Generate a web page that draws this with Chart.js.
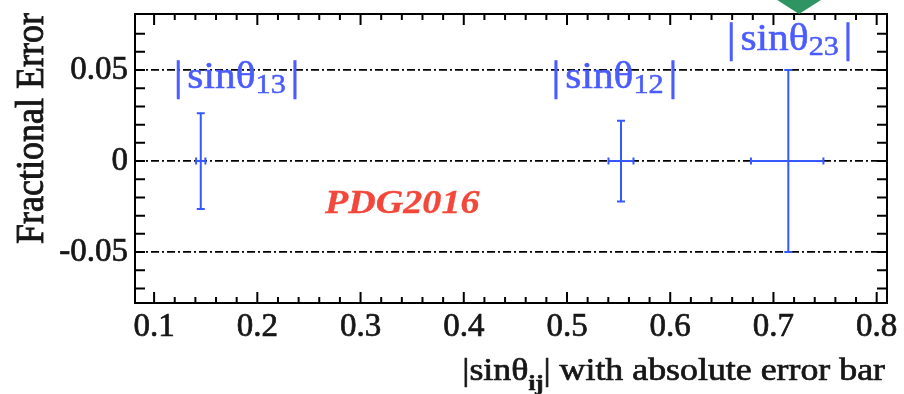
<!DOCTYPE html>
<html>
<head>
<meta charset="utf-8">
<title>Fractional Error</title>
<script src="https://cdn.jsdelivr.net/npm/chart.js@4.4.1/dist/chart.umd.min.js"></script>
<style>
  html, body { margin: 0; padding: 0; background: #fff; }
  canvas { display: block; }
</style>
</head>
<body>
<canvas id="error-chart" width="904" height="394"></canvas>
<script>
// mixing angles: |sin theta_ij| and their fractional errors
const angleNames = ["13", "12", "23"];
const sinValues = [0.1452, 0.5523, 0.7144];
const fracValues = [0, 0, 0];
const fracErrors = [0.0263, 0.0222, 0.0500];
const sinErrLow = [0.0045, 0.0121, 0.0362];
const sinErrHigh = [0.0045, 0.0121, 0.0340];

const xTickValues = [0.1, 0.2, 0.3, 0.4, 0.5, 0.6, 0.7, 0.8];
const xTickLabels = ["0.1", "0.2", "0.3", "0.4", "0.5", "0.6", "0.7", "0.8"];
const yTickValues = [-0.05, 0, 0.05];
const yTickLabels = ["-0.05", "0", "0.05"];

// where the text sits, in axis units
const labelSpots = [
  { x: 0.1799, y: 0.0402 },
  { x: 0.5460, y: 0.0402 },
  { x: 0.7157, y: 0.0611 }
];
const notePos = { x: 0.2656, y: -0.0286 };
const pinX = 0.7248;

const SERIF = "'Liberation Serif', 'Times New Roman', serif";
const stretch = 1.12;
const blueText = "#4a5cff";
const blueLine = "#3558ff";
const ink = "#161616";

Chart.defaults.font.family = SERIF;
Chart.defaults.color = ink;

function drawRuns(ctx, runs, x, y, align, color, weight) {
  let total = 0;
  runs.forEach((r) => {
    ctx.font = r.font;
    r.w = ctx.measureText(r.text).width + (r.pre || 0) + (r.post || 0);
    total += r.w;
  });
  let start = x;
  if (align === "right") start = x - total * stretch;
  if (align === "center") start = x - (total * stretch) / 2;
  ctx.save();
  ctx.translate(start, y);
  ctx.scale(stretch, 1);
  ctx.fillStyle = color;
  ctx.strokeStyle = color;
  ctx.lineWidth = weight || 0.6;
  ctx.textAlign = "left";
  ctx.textBaseline = "alphabetic";
  let cx = 0;
  runs.forEach((r) => {
    ctx.font = r.font;
    ctx.fillText(r.text, cx + (r.pre || 0), r.dy || 0);
    ctx.strokeText(r.text, cx + (r.pre || 0), r.dy || 0);
    cx += r.w;
  });
  ctx.restore();
}

const decorations = {
  id: "decorations",
  afterDatasetsDraw(chart) {
    const { ctx, chartArea: a } = chart;
    const x = chart.scales.x, y = chart.scales.y;
    ctx.save();

    // error bars
    ctx.strokeStyle = blueLine;
    ctx.lineWidth = 2;
    chart.data.datasets[0].data.forEach((p, i) => {
      const px = x.getPixelForValue(p.x);
      const py = y.getPixelForValue(p.y);
      const top = y.getPixelForValue(p.y + fracErrors[i]);
      const bot = y.getPixelForValue(p.y - fracErrors[i]);
      const left = x.getPixelForValue(p.x - sinErrLow[i]);
      const right = x.getPixelForValue(p.x + sinErrHigh[i]);
      ctx.beginPath();
      ctx.moveTo(px, top); ctx.lineTo(px, bot);
      ctx.moveTo(left, py); ctx.lineTo(right, py);
      ctx.moveTo(px - 4, top); ctx.lineTo(px + 4, top);
      ctx.moveTo(px - 4, bot); ctx.lineTo(px + 4, bot);
      ctx.moveTo(left, py - 3.5); ctx.lineTo(left, py + 3.5);
      ctx.moveTo(right, py - 3.5); ctx.lineTo(right, py + 3.5);
      ctx.stroke();
    });

    // frame with inward ticks on all four sides
    ctx.strokeStyle = "#000";
    ctx.lineWidth = 2;
    ctx.strokeRect(a.left, a.top, a.width, a.height);
    ctx.beginPath();
    for (let k = Math.ceil(x.min / 0.02); k * 0.02 <= x.max; k++) {
      const v = k * 0.02;
      const px = x.getPixelForValue(v);
      if (px < a.left + 2 || px > a.right - 2) continue;
      const major = k % 5 === 0;
      const len = major ? 11 : 6;
      ctx.moveTo(px, a.bottom); ctx.lineTo(px, a.bottom - len);
      ctx.moveTo(px, a.top); ctx.lineTo(px, a.top + len);
    }
    for (let k = Math.ceil(y.min / 0.01); k * 0.01 <= y.max; k++) {
      const py = y.getPixelForValue(k * 0.01);
      if (py < a.top + 2 || py > a.bottom - 2) continue;
      ctx.moveTo(a.left, py); ctx.lineTo(a.left + 10, py);
      ctx.moveTo(a.right, py); ctx.lineTo(a.right - 10, py);
    }
    ctx.stroke();

    // |sin theta_ij| labels
    angleNames.forEach((name, i) => {
      const s = labelSpots[i];
      drawRuns(ctx, [
        { text: "|", font: `42px ${SERIF}`, dy: 2, post: 4 },
        { text: "sin\u03b8", font: `37px ${SERIF}` },
        { text: name, font: `27px ${SERIF}`, dy: 5, post: 4 },
        { text: "|", font: `42px ${SERIF}`, dy: 2 }
      ], x.getPixelForValue(s.x), y.getPixelForValue(s.y), "center", blueText, 0.5);
    });

    drawRuns(ctx, [{ text: "PDG2016", font: `italic bold 34px ${SERIF}` }],
      x.getPixelForValue(notePos.x), y.getPixelForValue(notePos.y), "left", "#f2473a", 0.3);

    // axis titles
    drawRuns(ctx, [
      { text: "|sin\u03b8", font: `32px ${SERIF}` },
      { text: "ij", font: `bold 22px ${SERIF}`, dy: 10 },
      { text: "| with absolute error bar", font: `32px ${SERIF}` }
    ], a.right - 2, 380, "right", ink, 0.7);

    ctx.save();
    ctx.translate(43, a.top - 1);
    ctx.rotate(-Math.PI / 2);
    ctx.scale(1, stretch);
    ctx.font = `36px ${SERIF}`;
    ctx.fillStyle = ink;
    ctx.strokeStyle = ink;
    ctx.lineWidth = 0.8;
    ctx.textAlign = "right";
    ctx.textBaseline = "alphabetic";
    ctx.fillText("Fractional Error", 0, 0);
    ctx.strokeText("Fractional Error", 0, 0);
    ctx.restore();

    // green pin above the frame
    const gx = x.getPixelForValue(pinX);
    ctx.fillStyle = "#2e9461";
    ctx.beginPath();
    ctx.moveTo(gx, a.top);
    ctx.lineTo(gx - 25, a.top - 16);
    ctx.lineTo(gx + 25, a.top - 16);
    ctx.closePath();
    ctx.fill();

    ctx.restore();
  }
};

const chart = new Chart(document.getElementById("error-chart"), {
  type: "scatter",
  data: {
    datasets: [
      {
        label: "|sin\u03b8ij|",
        data: sinValues.map((v, i) => ({ x: v, y: fracValues[i] })),
        pointRadius: 0,
        showLine: false
      }
    ]
  },
  options: {
    responsive: false,
    devicePixelRatio: 1,
    animation: false,
    layout: { padding: { left: 0, top: 14, right: 17, bottom: 0 } },
    plugins: { legend: { display: false }, tooltip: { enabled: false } },
    scales: {
      x: {
        type: "linear",
        min: 0.0815,
        max: 0.81,
        afterFit: (s) => { s.height = 91; s.paddingLeft = 0; s.paddingRight = 0; },
        afterBuildTicks: (s) => { s.ticks = xTickValues.map((v) => ({ value: v })); },
        grid: { display: false, drawTicks: false },
        border: { display: false },
        ticks: {
          autoSkip: false,
          maxRotation: 0,
          padding: 5,
          font: { size: 33 },
          color: ink,
          textStrokeColor: ink,
          textStrokeWidth: 0.7,
          callback: (v) => xTickLabels[xTickValues.findIndex((t) => Math.abs(t - v) < 1e-6)]
        }
      },
      y: {
        type: "linear",
        min: -0.078,
        max: 0.0808,
        afterFit: (s) => { s.width = 135; s.paddingTop = 0; s.paddingBottom = 0; },
        afterBuildTicks: (s) => { s.ticks = yTickValues.map((v) => ({ value: v })); },
        grid: {
          drawTicks: false,
          color: "#000",
          lineWidth: 1.8
        },
        border: { display: false, dash: [8, 3, 2, 3] },
        ticks: {
          padding: 7,
          font: { size: 33 },
          color: ink,
          textStrokeColor: ink,
          textStrokeWidth: 0.7,
          callback: (v) => yTickLabels[yTickValues.findIndex((t) => Math.abs(t - v) < 1e-6)]
        }
      }
    }
  },
  plugins: [decorations]
});
</script>
</body>
</html>
